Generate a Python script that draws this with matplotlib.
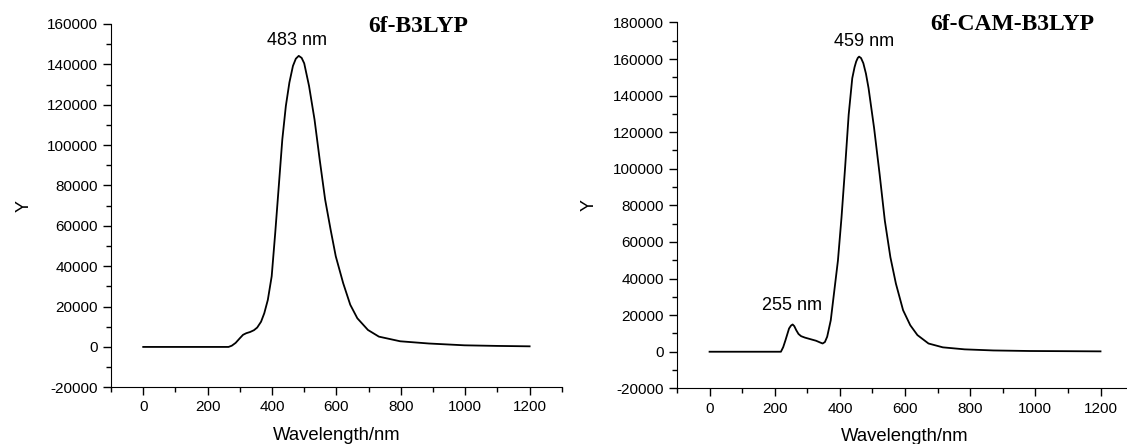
import matplotlib.pyplot as plt
from matplotlib.ticker import MultipleLocator

plt.rcParams['font.family'] = ['Liberation Sans', 'DejaVu Sans']
plt.rcParams['axes.unicode_minus'] = False

# spectrum (wavelength nm, intensity)
wl_b3lyp = [0, 100, 200, 265, 275, 287, 300, 310, 320, 332, 344, 354, 366, 376, 387, 399,
            410, 421, 432, 443, 454, 465, 474, 483, 492, 500, 515, 532, 548, 565, 582,
            598, 621, 643, 665, 698, 732, 798, 887, 998, 1100, 1200]
y_b3lyp = [0, 0, 0, 0, 600, 2000, 4300, 6000, 6800, 7400, 8300, 9600, 12500, 16700, 23300, 35000,
           56500, 79600, 102800, 119400, 131000, 139200, 142800, 144200, 143200, 140500, 129300,
           112700, 92900, 73000, 58100, 44900, 31600, 20900, 14200, 8400, 5100, 2800, 1700, 800,
           500, 300]

wl_cam = [0, 100, 200, 219, 226, 233, 244, 250, 255, 260, 266, 273, 281, 293, 305, 327, 340,
          347, 354, 361, 372, 383, 394, 405, 416, 427, 438, 445, 450, 455, 459, 465, 472, 480,
          488, 505, 522, 538, 555, 572, 594, 616, 638, 672, 716, 783, 871, 983, 1100, 1200]
y_cam = [0, 0, 0, 0, 2500, 6300, 12700, 14300, 14900, 14000, 11800, 9700, 8500, 7700, 7100, 6000,
         5000, 4500, 5300, 8200, 17200, 33500, 49800, 73400, 100600, 129600, 149500, 155500,
         158600, 160600, 161300, 160500, 157700, 152000, 144100, 122300, 97000, 71600, 51700,
         37200, 22700, 14500, 9100, 4500, 2400, 1300, 700, 400, 300, 200]

fig = plt.figure(figsize=(11.27, 4.44), dpi=100)
ax1 = fig.add_axes([0.0985, 0.1277, 0.400, 0.8183])
ax2 = fig.add_axes([0.6007, 0.1254, 0.4047, 0.8241])

for ax in (ax1, ax2):
    ax.spines['top'].set_visible(False)
    ax.spines['right'].set_visible(False)
    ax.set_xlim(-100, 1300)
    ax.xaxis.set_major_locator(MultipleLocator(200))
    ax.xaxis.set_minor_locator(MultipleLocator(100))
    ax.yaxis.set_major_locator(MultipleLocator(20000))
    ax.yaxis.set_minor_locator(MultipleLocator(10000))
    ax.tick_params(which='major', direction='out', length=6, width=1, labelsize=11)
    ax.tick_params(which='minor', direction='out', length=3.5, width=1)
    ax.set_xlabel('Wavelength/nm', fontsize=13.3, labelpad=9)
    ax.set_xticks([0, 200, 400, 600, 800, 1000, 1200])

ax1.set_ylabel('Y', fontsize=13, labelpad=10)
ax2.set_ylabel('Y', fontsize=13, labelpad=11)

ax1.plot(wl_b3lyp, y_b3lyp, color='black', lw=1.3)
ax1.set_ylim(-20000, 160000)
ax1.text(477, 151600, '483 nm', ha='center', va='center', fontsize=13)
ax1.text(0.681, 0.992, '6f-B3LYP', transform=ax1.transAxes, ha='center', va='center',
         fontsize=17, fontweight='bold', family='Liberation Serif')

ax2.plot(wl_cam, y_cam, color='black', lw=1.3)
ax2.set_ylim(-20000, 180000)
ax2.text(474, 169600, '459 nm', ha='center', va='center', fontsize=13)
ax2.text(254, 25100, '255 nm', ha='center', va='center', fontsize=13)
ax2.text(0.735, 0.995, '6f-CAM-B3LYP', transform=ax2.transAxes, ha='center', va='center',
         fontsize=17, fontweight='bold', family='Liberation Serif')

fig.savefig('out.png', dpi=100)
